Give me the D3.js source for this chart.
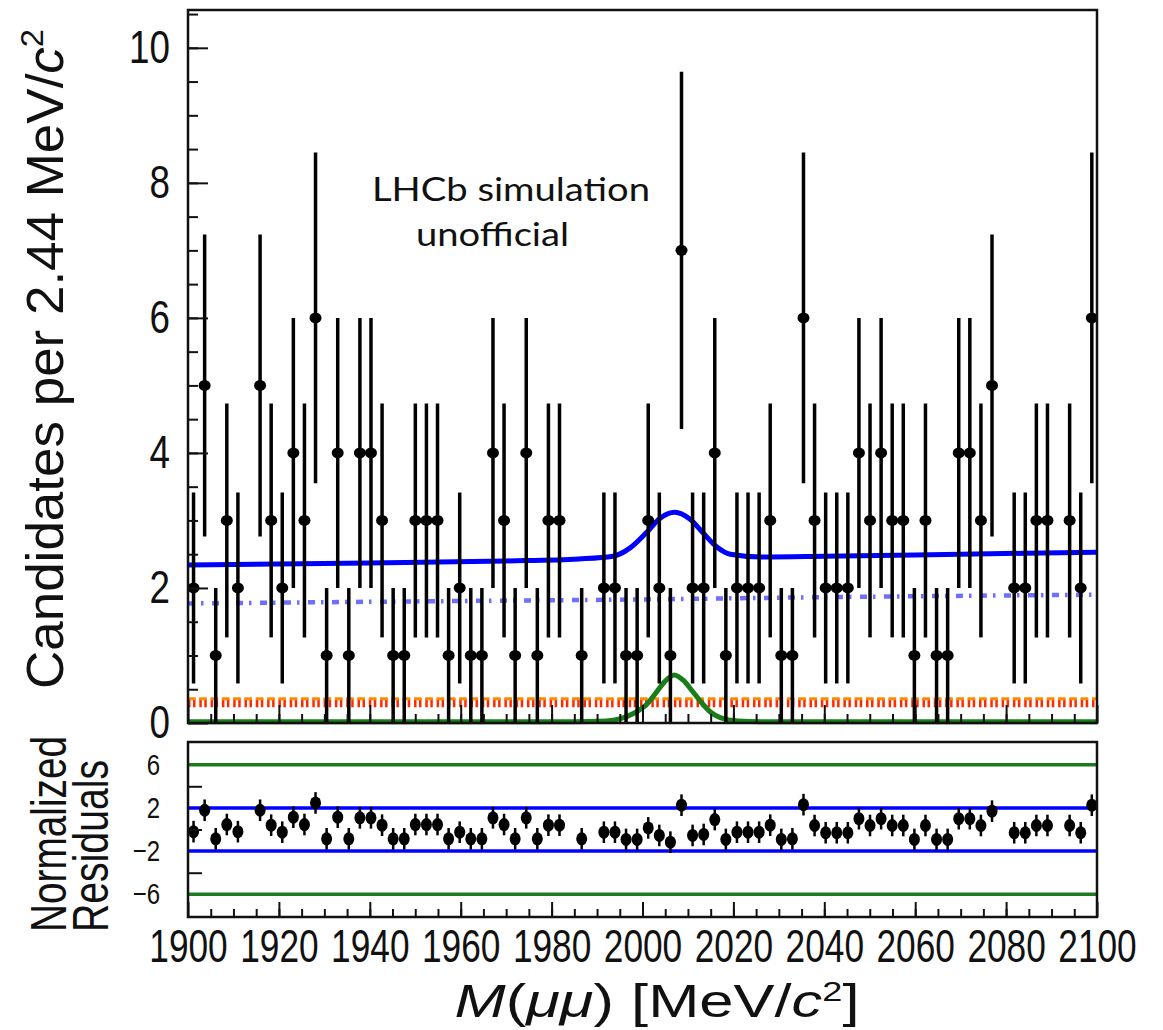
<!DOCTYPE html>
<html>
<head>
<meta charset="utf-8">
<title>M(mumu) fit</title>
<script src="https://cdn.jsdelivr.net/npm/d3@7/dist/d3.min.js"></script>
<style>
  body { margin: 0; background: #fff; }
  svg text { font-family: "Liberation Sans", Arial, sans-serif; fill: #111; }
</style>
</head>
<body>
<div id="chart"></div>
<script>
// ---- data ----
var massLow = 1900, massHigh = 2100, binWidth = 2.44;

// candidates per bin (82 bins of 2.44 MeV)
var counts = [2,5,1,3,2,0,5,3,2,4, 3,6,1,4,1,4,4,3,1,1,
              3,3,3,1,2,1,1,4,3,1, 4,1,3,3,0,1,0,2,2,1,
              1,3,2,1,7,2,2,4,1,2, 2,2,3,1,1,6,3,2,2,2,
              4,3,4,3,3,1,3,1,1,4, 4,3,5,0,2,2,3,3,0,3,
              2,6];

// normalized residuals (null = empty bin, not drawn)
var pulls = [-0.2,1.78,-0.86,0.46,-0.2,null,1.78,0.4,-0.25,1.14,
             0.46,2.46,-0.86,1.14,-0.86,1.08,1.08,0.4,-0.86,-0.86,
             0.46,0.46,0.46,-0.86,-0.25,-0.86,-0.86,1.08,0.46,-0.86,
             1.08,-0.86,0.4,0.4,null,-0.86,null,-0.25,-0.25,-0.92,
             -0.92,0.15,-0.55,-1.17,2.25,-0.55,-0.46,0.92,-0.92,-0.25,
             -0.25,-0.25,0.4,-0.92,-0.86,2.3,0.37,-0.3,-0.3,-0.3,
             1.0,0.37,1.0,0.37,0.37,-0.92,0.37,-0.92,-0.92,1.0,
             1.0,0.37,1.7,null,-0.3,-0.3,0.37,0.37,null,0.37,
             -0.3,2.25];
var pullErr = 1;

// fit components [mass, candidates]
var totalFit = [[1900,2.34],[1940,2.37],[1970,2.40],[1986,2.43],[1993.5,2.47],
                [1997.2,2.59],[2001,2.83],[2003.8,3.03],[2007.1,3.12],[2010.4,3.02],
                [2013.4,2.81],[2016.3,2.61],[2019.3,2.50],[2026,2.46],[2040,2.47],
                [2070,2.50],[2100,2.53]];
var combBkg = [[1900,1.77],[1965,1.81],[2000,1.83],[2035,1.86],[2100,1.90]];
var flatBkg = [[1900,0.30],[2100,0.30]];
var signal = [[1900,0.02],[1985,0.02],[1992,0.03],[1995,0.06],[1998,0.14],
              [2001,0.28],[2003,0.45],[2005,0.62],[2007,0.71],[2009,0.63],
              [2011,0.47],[2013,0.30],[2015,0.16],[2018,0.06],[2021,0.03],
              [2026,0.02],[2100,0.02]];

var xTicks = [1900,1920,1940,1960,1980,2000,2020,2040,2060,2080,2100];
var yTicks = [0,2,4,6,8,10];
var resLabels = [6,2,-2,-6];
var resTicks = [-4,0,4];
var resLines = [{v:6,c:"#1e7a1e"},{v:-6,c:"#1e7a1e"},{v:2,c:"#0000ff"},{v:-2,c:"#0000ff"}];

// ---- layout ----
var W = 1163, H = 1030;
var L = 188, R = 1097;
var topT = 10, topB = 723, resT = 742, resB = 917;

var svg = d3.select("#chart").append("svg")
    .attr("width", W).attr("height", H);
svg.append("rect").attr("width", W).attr("height", H).attr("fill", "#fff");

var x = d3.scaleLinear().domain([massLow, massHigh]).range([L, R]);
var y = d3.scaleLinear().domain([0, 10.56]).range([topB, topT]);
var yr = d3.scaleLinear().domain([-8.1, 8.1]).range([resB, resT]);

var bins = counts.map(function(c, i) {
  return {m: massLow + binWidth * (i + 0.5), n: c, p: pulls[i]};
});

// ---- top panel curves ----
var line = d3.line()
    .x(function(d) { return x(d[0]); })
    .y(function(d) { return y(d[1]); })
    .curve(d3.curveMonotoneX);

svg.append("path").datum(flatBkg).attr("d", line)
    .attr("fill", "none").attr("stroke", "#ff2a00").attr("stroke-width", 9)
    .attr("stroke-dasharray", "2.5,2.5,2.5,3.8");
svg.append("path").datum(flatBkg.map(function(d) { return [d[0], d[1] + 0.06]; })).attr("d", line)
    .attr("fill", "none").attr("stroke", "#ff8a00").attr("stroke-width", 3)
    .attr("stroke-dasharray", "7.5,3.8");

svg.append("path").datum(combBkg).attr("d", line)
    .attr("fill", "none").attr("stroke", "#6f6fff").attr("stroke-width", 4.5)
    .attr("stroke-dasharray", "7,6,2.5,8.5");

svg.append("path").datum(signal).attr("d", line)
    .attr("fill", "none").attr("stroke", "#1a7d1a").attr("stroke-width", 5);

svg.append("path").datum(totalFit).attr("d", line)
    .attr("fill", "none").attr("stroke", "#0000ff").attr("stroke-width", 5);

// ---- top panel data ----
var filled = bins.filter(function(d) { return d.n > 0; });
var dataG = svg.append("g");
dataG.selectAll("line.err").data(filled).enter().append("line")
    .attr("x1", function(d) { return x(d.m); })
    .attr("x2", function(d) { return x(d.m); })
    .attr("y1", function(d) { return y(d.n + Math.sqrt(d.n)); })
    .attr("y2", function(d) { return y(Math.max(0, d.n - Math.sqrt(d.n))); })
    .attr("stroke", "#000").attr("stroke-width", 3.5);
dataG.selectAll("ellipse").data(filled).enter().append("ellipse")
    .attr("cx", function(d) { return x(d.m); })
    .attr("cy", function(d) { return y(d.n); })
    .attr("rx", 6).attr("ry", 5.5).attr("fill", "#000");

// ---- residual panel ----
svg.selectAll("line.ref").data(resLines).enter().append("line")
    .attr("x1", L).attr("x2", R)
    .attr("y1", function(d) { return yr(d.v); })
    .attr("y2", function(d) { return yr(d.v); })
    .attr("stroke", function(d) { return d.c; }).attr("stroke-width", 3.5);

var pts = bins.filter(function(d) { return d.p !== null; });
svg.selectAll("line.perr").data(pts).enter().append("line")
    .attr("x1", function(d) { return x(d.m); })
    .attr("x2", function(d) { return x(d.m); })
    .attr("y1", function(d) { return yr(d.p + pullErr); })
    .attr("y2", function(d) { return yr(d.p - pullErr); })
    .attr("stroke", "#000").attr("stroke-width", 2.5);
svg.selectAll("ellipse.pt").data(pts).enter().append("ellipse")
    .attr("cx", function(d) { return x(d.m); })
    .attr("cy", function(d) { return yr(d.p); })
    .attr("rx", 5.5).attr("ry", 6.5).attr("fill", "#000");

// ---- axes ----
function squeeze(sel, s, dx) {
  sel.selectAll("text").each(function() {
    var t = d3.select(this);
    if (dx !== undefined) t.attr("x", dx / s);
    t.attr("transform", "scale(" + s + ",1)");
  });
}

// top x ticks
svg.append("g").attr("transform", "translate(0," + topB + ")")
    .call(d3.axisBottom(x).tickValues(d3.range(1905, 2100, 5)).tickSize(-9).tickFormat(""))
    .call(function(g) { g.select(".domain").remove(); });
svg.append("g").attr("transform", "translate(0," + topB + ")")
    .call(d3.axisBottom(x).tickValues(xTicks).tickSize(-18).tickFormat(""))
    .call(function(g) { g.select(".domain").remove(); });

// top y ticks
svg.append("g").attr("transform", "translate(" + L + ",0)")
    .call(d3.axisLeft(y).tickValues(d3.range(0.5, 10.6, 0.5)).tickSize(-10).tickFormat(""))
    .call(function(g) { g.select(".domain").remove(); });
var yAx = svg.append("g").attr("transform", "translate(" + L + ",0)")
    .call(d3.axisLeft(y).tickValues(yTicks).tickSize(-20).tickPadding(18))
    .call(function(g) { g.select(".domain").remove(); });
yAx.selectAll("text").attr("font-size", 46).attr("fill", "#111");
squeeze(yAx, 0.8, -18);

// residual x axis
svg.append("g").attr("transform", "translate(0," + resB + ")")
    .call(d3.axisBottom(x).tickValues(d3.range(1905, 2100, 5)).tickSize(-8).tickFormat(""))
    .call(function(g) { g.select(".domain").remove(); });
var xAx = svg.append("g").attr("transform", "translate(0," + resB + ")")
    .call(d3.axisBottom(x).tickValues(xTicks).tickSize(-15).tickPadding(12).tickFormat(d3.format("d")))
    .call(function(g) { g.select(".domain").remove(); });
xAx.selectAll("text").attr("font-size", 47).attr("fill", "#111");
squeeze(xAx, 0.75);

// residual y axis
svg.append("g").attr("transform", "translate(" + L + ",0)")
    .call(d3.axisLeft(yr).tickValues(resTicks).tickSize(-14).tickFormat(""))
    .call(function(g) { g.select(".domain").remove(); });
var rAx = svg.append("g").attr("transform", "translate(" + L + ",0)")
    .call(d3.axisLeft(yr).tickValues(resLabels).tickSize(0).tickPadding(28)
          .tickFormat(function(d) { return d < 0 ? "\u2212" + (-d) : d; }))
    .call(function(g) { g.select(".domain").remove(); });
rAx.selectAll("text").attr("font-size", 30).attr("fill", "#111");
squeeze(rAx, 0.8, -28);

svg.selectAll(".tick line").attr("stroke", "#111").attr("stroke-width", 2);

// frames
svg.append("rect").attr("x", L).attr("y", topT).attr("width", R - L).attr("height", topB - topT)
    .attr("fill", "none").attr("stroke", "#111").attr("stroke-width", 2.5);
svg.append("rect").attr("x", L).attr("y", resT).attr("width", R - L).attr("height", resB - resT)
    .attr("fill", "none").attr("stroke", "#111").attr("stroke-width", 2.5);

// ---- titles ----
var yt = svg.append("text")
    .attr("transform", "translate(63," + 359 + ") rotate(-90)")
    .attr("text-anchor", "middle").attr("font-size", 52)
    .attr("textLength", 660).attr("lengthAdjust", "spacingAndGlyphs");
yt.append("tspan").text("Candidates per 2.44 MeV/");
yt.append("tspan").attr("font-style", "italic").text("c");
yt.append("tspan").attr("font-size", 32).attr("dy", -20).text("2");

svg.append("text")
    .attr("transform", "translate(66,834) rotate(-90)")
    .attr("text-anchor", "middle").attr("font-size", 50)
    .attr("textLength", 196).attr("lengthAdjust", "spacingAndGlyphs")
    .text("Normalized");
svg.append("text")
    .attr("transform", "translate(108,846) rotate(-90)")
    .attr("text-anchor", "middle").attr("font-size", 50)
    .attr("textLength", 172).attr("lengthAdjust", "spacingAndGlyphs")
    .text("Residuals");

var xt = svg.append("text")
    .attr("x", 657).attr("y", 1017)
    .attr("text-anchor", "middle").attr("font-size", 46)
    .attr("textLength", 405).attr("lengthAdjust", "spacingAndGlyphs");
xt.append("tspan").attr("font-style", "italic").text("M");
xt.append("tspan").text("(");
xt.append("tspan").attr("font-style", "italic").text("\u03bc\u03bc");
xt.append("tspan").text(") [MeV/");
xt.append("tspan").attr("font-style", "italic").text("c");
xt.append("tspan").attr("font-size", 27).attr("dy", -16).text("2");
xt.append("tspan").attr("dy", 16).text("]");

svg.append("text").attr("x", 372).attr("y", 201)
    .style("font-family", "Lato, 'Open Sans', sans-serif")
    .attr("font-size", 32).attr("textLength", 278).attr("lengthAdjust", "spacingAndGlyphs")
    .text("LHCb simulation");
svg.append("text").attr("x", 416).attr("y", 246)
    .style("font-family", "Lato, 'Open Sans', sans-serif")
    .attr("font-size", 32).attr("textLength", 153).attr("lengthAdjust", "spacingAndGlyphs")
    .text("unofficial");
</script>
</body>
</html>
